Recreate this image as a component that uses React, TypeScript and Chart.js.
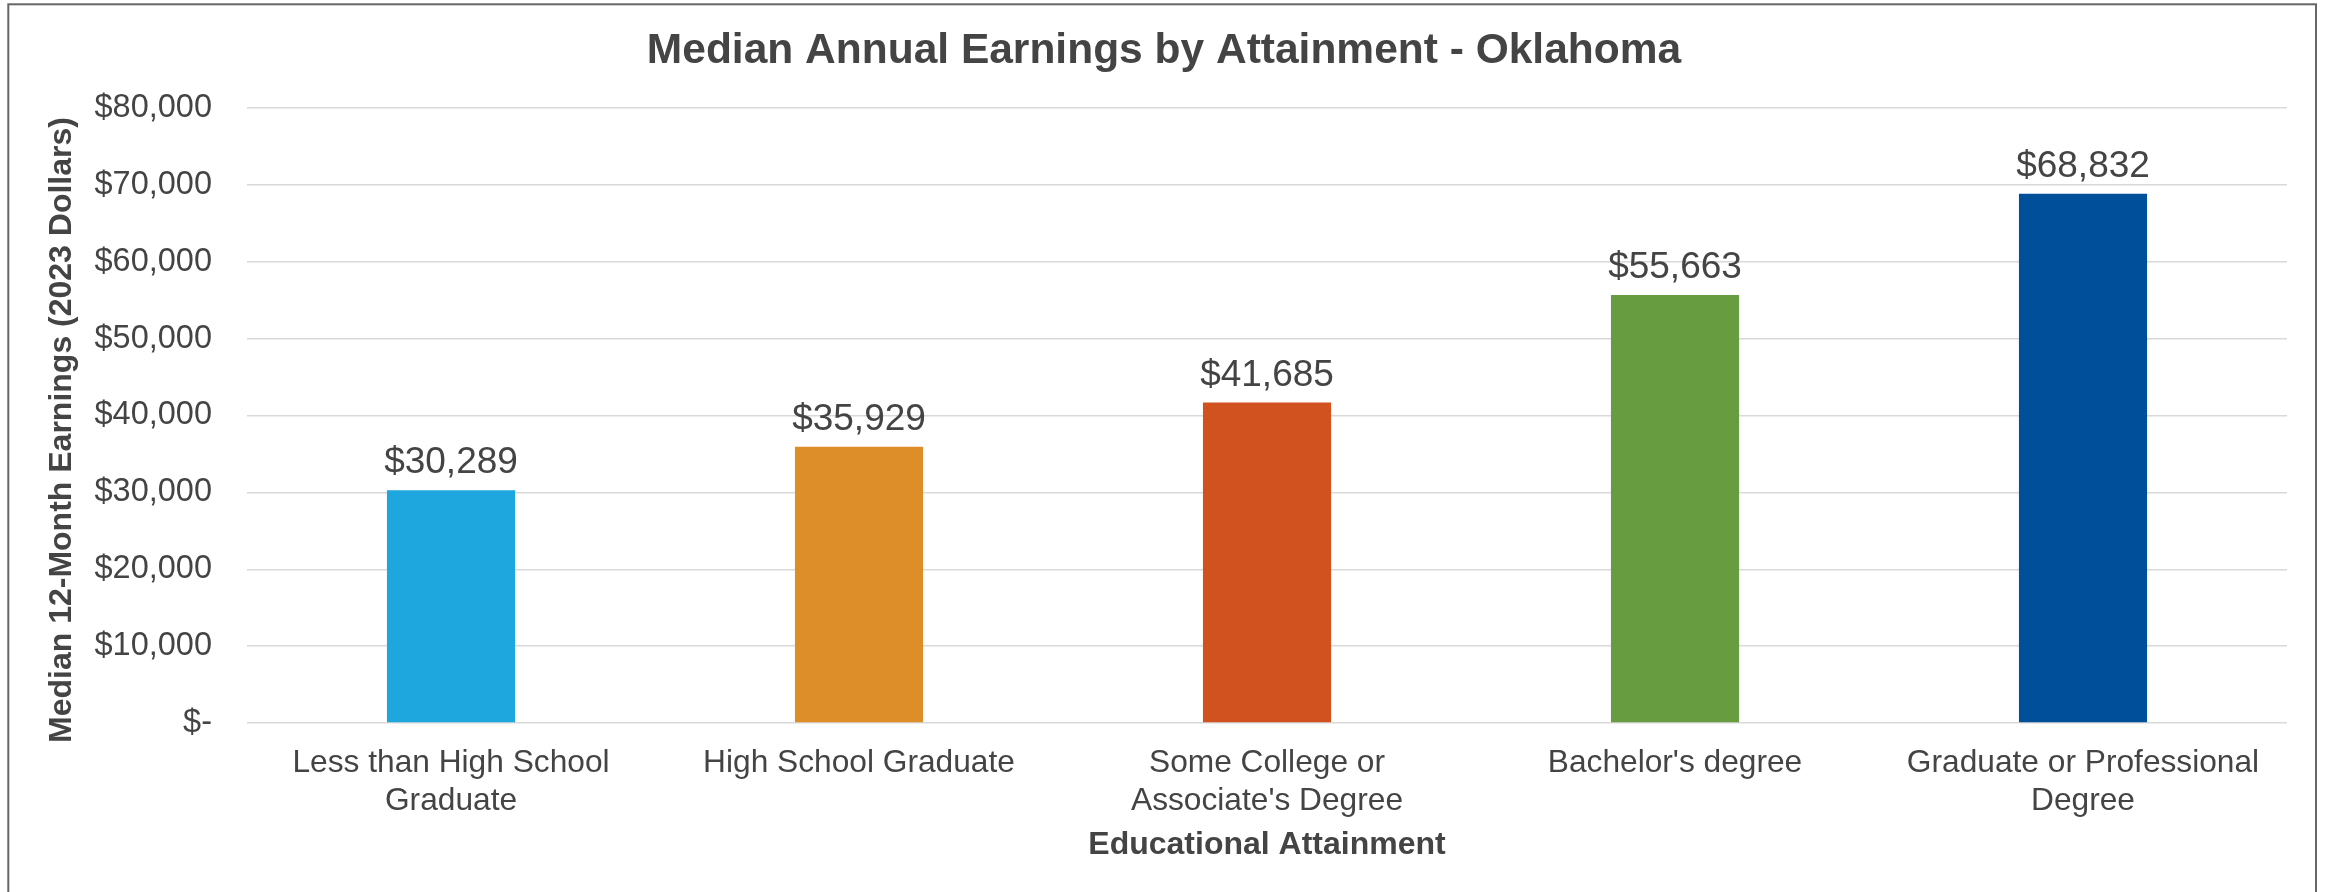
import React, { useEffect, useRef } from "react";
import { Chart, registerables } from "chart.js";

Chart.register(...registerables);

const categories: (string | string[])[] = [
  ["Less than High School", "Graduate"],
  "High School Graduate",
  ["Some College or", "Associate's Degree"],
  "Bachelor's degree",
  ["Graduate or Professional", "Degree"],
];
const earnings: number[] = [30289, 35929, 41685, 55663, 68832];
const barColors: string[] = ["#1EA6DE", "#DD8E28", "#D2521F", "#679C40", "#004F9A"];
const chartTitle = "Median Annual Earnings by Attainment - Oklahoma";
const yTitle = "Median 12-Month Earnings (2023 Dollars)";
const xTitle = "Educational Attainment";
const yMax = 80000;
const yStep = 10000;

const FONT = "'Liberation Sans', Arial, sans-serif";
const TEXT = "#444444";

const fmt = (v: number) =>
  v === 0 ? "$-" : "$" + v.toLocaleString("en-US", { maximumFractionDigits: 0 });

const framePlugin = {
  id: "frameAndTitles",
  beforeDraw(chart: any) {
    const ctx = chart.ctx;
    ctx.save();
    ctx.fillStyle = "#ffffff";
    ctx.fillRect(0, 0, chart.width, chart.height);
    ctx.strokeStyle = "#666666";
    ctx.lineWidth = 2;
    ctx.strokeRect(8.3, 4.3, 2316 - 8.3, chart.height + 10);
    ctx.restore();
  },
  afterDraw(chart: any) {
    const ctx = chart.ctx;
    ctx.save();
    ctx.fillStyle = TEXT;
    ctx.textAlign = "center";
    ctx.textBaseline = "middle";
    ctx.font = `bold 42.5px ${FONT}`;
    ctx.fillText(chartTitle, chart.width / 2, 51.5);
    ctx.translate(62, 430);
    ctx.rotate(-Math.PI / 2);
    ctx.font = `bold 32px ${FONT}`;
    ctx.fillText(yTitle, 0, 0);
    ctx.restore();
  },
};

const labelPlugin = {
  id: "barValueLabels",
  afterDatasetsDraw(chart: any) {
    const ctx = chart.ctx;
    const meta = chart.getDatasetMeta(0);
    const data = chart.data.datasets[0].data as number[];
    ctx.save();
    ctx.font = `37px ${FONT}`;
    ctx.fillStyle = TEXT;
    ctx.textAlign = "center";
    ctx.textBaseline = "alphabetic";
    meta.data.forEach((bar: any, i: number) => {
      ctx.fillText(fmt(data[i]), bar.x, bar.y - 17);
    });
    ctx.restore();
  },
};

export default function App() {
  const ref = useRef<HTMLCanvasElement | null>(null);

  useEffect(() => {
    document.body.style.margin = "0";
    const canvas = ref.current;
    if (!canvas) return;
    const chart = new Chart(canvas, {
      type: "bar",
      data: {
        labels: categories,
        datasets: [
          {
            data: earnings,
            backgroundColor: barColors,
            borderWidth: 0,
            barPercentage: 0.314,
            categoryPercentage: 1,
          },
        ],
      },
      options: {
        animation: false,
        responsive: false,
        maintainAspectRatio: false,
        layout: { padding: { left: 0, right: 41, top: 108, bottom: 0 } },
        plugins: {
          legend: { display: false },
          tooltip: { enabled: false },
          title: { display: false },
        },
        scales: {
          x: {
            grid: { display: false, drawTicks: false },
            border: { display: false },
            ticks: {
              color: TEXT,
              font: { family: FONT, size: 31.7, lineHeight: 1.18 },
              padding: 22,
              maxRotation: 0,
              autoSkip: false,
            },
            title: {
              display: true,
              text: xTitle,
              color: TEXT,
              font: { family: FONT, size: 32, weight: "bold", lineHeight: 1.2 },
              padding: { top: 0, bottom: 28 },
            },
            afterFit(scale: any) {
              scale.height = 169;
            },
          },
          y: {
            min: 0,
            max: yMax,
            grid: { color: "#D9D9D9", lineWidth: 1.5, drawTicks: false },
            border: { display: false },
            ticks: {
              stepSize: yStep,
              color: TEXT,
              font: { family: FONT, size: 32.5 },
              padding: 35,
              callback: (v: any) => fmt(Number(v)),
            },
            title: { display: false },
            afterFit(scale: any) {
              scale.width = 247;
            },
          },
        },
      },
      plugins: [framePlugin, labelPlugin],
    });
    return () => chart.destroy();
  }, []);

  return (
    <div style={{ width: 2328, height: 892 }}>
      <canvas ref={ref} width={2328} height={892} style={{ display: "block" }} />
    </div>
  );
}
